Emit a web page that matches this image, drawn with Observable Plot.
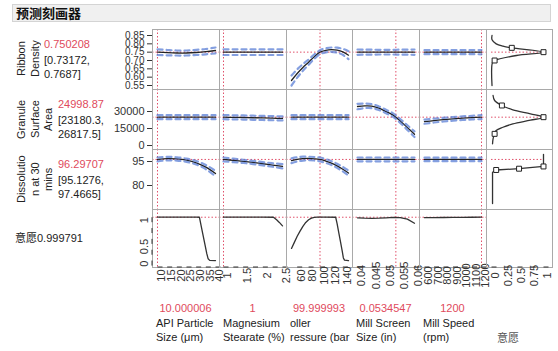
<!DOCTYPE html>
<html><head><meta charset="utf-8">
<script src="https://cdn.jsdelivr.net/npm/d3@7"></script>
<script src="https://cdn.jsdelivr.net/npm/@observablehq/plot@0.6"></script>
<style>
body{margin:0;background:#fff;}
#root{position:relative;width:558px;height:351px;overflow:hidden;background:#fff;}
</style></head><body><div id="root"></div>
<script>
// ---------- text ----------
const title = "预测刻画器";
const responseNames = [["Ribbon","Density"],["Granule","Surface","Area"],["Dissolutio","n at 30","mins"]];
const predicted = ["0.750208","24998.87","96.29707"];
const intervalLo = ["[0.73172,","[23180.3,","[95.1276,"];
const intervalHi = ["0.7687]","26817.5]","97.4665]"];
const desirabilityLabel = "意愿0.999791";
const factorLines = [["API Particle","Size (μm)"],["Magnesium","Stearate (%)"],["oller","ressure (bar"],["Mill Screen","Size (in)"],["Mill Speed","(rpm)"]];
const factorValues = ["10.000006","1","99.999993","0.0534547","1200"];
const desireColLabel = "意愿";
const currentX = [10.000006, 1, 99.999993, 0.0534547, 1200];
const currentY = [0.750208, 24998.87, 96.29707, 0.999791];

// ---------- ticks ----------
const ticksRibbon = [0.55, 0.60, 0.65, 0.70, 0.75, 0.80, 0.85];
const ticksSurface = [0, 15000, 30000];
const ticksDissolution = [80, 95];
const ticksDesire = [0, 0.25, 0.5, 0.75, 1];
const labelsDesire = [0, 0.5, 1];
const ticksApi = [10, 15, 20, 25, 30, 35, 40];
const ticksMg = [1, 1.25, 1.5, 1.75, 2, 2.25, 2.5];
const labelsMg = [1, 1.5, 2, 2.5];
const ticksRoller = [60, 80, 100, 120, 140];
const ticksScreen = [0.04, 0.045, 0.05, 0.055, 0.06];
const ticksSpeed = [600, 700, 800, 900, 1000, 1100, 1200];
const ticksDesireX = [0, 0.25, 0.5, 0.75, 1];

// ---------- factor grids ----------
const apiGrid = [10, 15, 20, 25, 30, 35, 40];
const mgGrid = [1, 1.25, 1.5, 1.75, 2, 2.25, 2.5];
const rollerGrid = [50, 60, 70, 80, 90, 100, 110, 120, 130, 140, 150];
const screenGrid = [0.04, 0.0425, 0.045, 0.0475, 0.05, 0.0525, 0.055, 0.0575, 0.06];
const speedGrid = [600, 700, 800, 900, 1000, 1100, 1200];

// ---------- Ribbon Density ----------
const ribbonApi   = [0.750, 0.747, 0.745, 0.745, 0.748, 0.753, 0.760];
const ribbonApiLo = [0.733, 0.731, 0.730, 0.730, 0.733, 0.737, 0.743];
const ribbonApiHi = [0.767, 0.763, 0.760, 0.760, 0.764, 0.769, 0.778];
const ribbonMg   = [0.750, 0.750, 0.750, 0.750, 0.750, 0.750, 0.750];
const ribbonMgLo = [0.733, 0.733, 0.733, 0.733, 0.733, 0.733, 0.733];
const ribbonMgHi = [0.767, 0.767, 0.767, 0.767, 0.767, 0.767, 0.767];
const ribbonRoller   = [0.580, 0.622, 0.658, 0.690, 0.723, 0.750, 0.761, 0.765, 0.762, 0.752, 0.732];
const ribbonRollerLo = [0.550, 0.597, 0.638, 0.674, 0.710, 0.738, 0.749, 0.752, 0.747, 0.734, 0.708];
const ribbonRollerHi = [0.610, 0.647, 0.678, 0.706, 0.736, 0.762, 0.773, 0.778, 0.777, 0.770, 0.756];
const ribbonScreen   = [0.750, 0.750, 0.750, 0.750, 0.750, 0.750, 0.750, 0.750, 0.750];
const ribbonScreenLo = [0.734, 0.735, 0.735, 0.736, 0.736, 0.736, 0.735, 0.735, 0.734];
const ribbonScreenHi = [0.766, 0.765, 0.765, 0.764, 0.764, 0.764, 0.765, 0.765, 0.766];
const ribbonSpeed   = [0.750, 0.750, 0.750, 0.750, 0.750, 0.750, 0.750];
const ribbonSpeedLo = [0.738, 0.738, 0.738, 0.738, 0.738, 0.738, 0.737];
const ribbonSpeedHi = [0.762, 0.762, 0.762, 0.762, 0.762, 0.762, 0.763];

// ---------- Granule Surface Area ----------
const surfaceApi   = [25000, 25000, 25000, 25000, 25000, 25000, 25000];
const surfaceApiLo = [23200, 23200, 23200, 23200, 23200, 23200, 23200];
const surfaceApiHi = [26800, 26800, 26800, 26800, 26800, 26800, 26800];
const surfaceMg   = [25000, 24850, 24700, 24500, 24300, 24100, 23900];
const surfaceMgLo = [23200, 23050, 22900, 22700, 22500, 22300, 22100];
const surfaceMgHi = [26800, 26650, 26500, 26300, 26100, 25900, 25700];
const surfaceRoller   = [25000, 25000, 25000, 25000, 25000, 25000, 25000, 25000, 25000, 25000, 25000];
const surfaceRollerLo = [23200, 23200, 23200, 23200, 23200, 23200, 23200, 23200, 23200, 23200, 23200];
const surfaceRollerHi = [26800, 26800, 26800, 26800, 26800, 26800, 26800, 26800, 26800, 26800, 26800];
const surfaceScreen   = [34400, 35000, 34800, 32900, 30000, 26800, 21700, 15800, 10000];
const surfaceScreenLo = [32000, 33000, 33000, 31300, 28500, 25200, 20000, 13800, 7500];
const surfaceScreenHi = [36800, 37000, 36600, 34500, 31500, 28400, 23400, 17800, 12500];
const surfaceSpeed   = [21000, 22000, 22800, 23500, 24100, 24600, 25000];
const surfaceSpeedLo = [19200, 20300, 21200, 21900, 22500, 23000, 23200];
const surfaceSpeedHi = [22800, 23700, 24400, 25100, 25700, 26200, 26800];

// ---------- Dissolution at 30 mins ----------
const dissApi   = [96.3, 96.8, 96.6, 95.8, 94.2, 91.5, 87.5];
const dissApiLo = [95.1, 95.7, 95.6, 94.8, 93.1, 90.2, 85.8];
const dissApiHi = [97.5, 97.9, 97.6, 96.8, 95.3, 92.8, 89.2];
const dissMg   = [96.3, 95.7, 95.1, 94.4, 93.6, 92.8, 92.0];
const dissMgLo = [95.1, 94.6, 94.1, 93.4, 92.6, 91.7, 90.7];
const dissMgHi = [97.5, 96.8, 96.1, 95.4, 94.6, 93.9, 93.3];
const dissRoller   = [95.5, 96.3, 96.8, 96.9, 96.7, 96.3, 95.3, 94.0, 92.3, 90.2, 87.8];
const dissRollerLo = [94.0, 95.0, 95.6, 95.8, 95.6, 95.1, 94.1, 92.8, 91.0, 88.8, 86.2];
const dissRollerHi = [97.0, 97.6, 98.0, 98.0, 97.8, 97.5, 96.5, 95.2, 93.6, 91.6, 89.4];
const dissScreen   = [96.3, 96.3, 96.3, 96.3, 96.3, 96.3, 96.3, 96.3, 96.3];
const dissScreenLo = [95.1, 95.1, 95.1, 95.1, 95.1, 95.1, 95.1, 95.1, 95.1];
const dissScreenHi = [97.5, 97.5, 97.5, 97.5, 97.5, 97.5, 97.5, 97.5, 97.5];
const dissSpeed   = [96.3, 96.3, 96.3, 96.3, 96.3, 96.3, 96.3];
const dissSpeedLo = [95.2, 95.2, 95.2, 95.2, 95.2, 95.2, 95.2];
const dissSpeedHi = [97.4, 97.4, 97.4, 97.4, 97.4, 97.4, 97.4];

// ---------- Desirability (意愿) vs factors ----------
const desireApiX = [10, 20, 30, 31.7, 32.5, 33.5, 34.5, 35.5, 36.2, 37, 40];
const desireApi  = [1, 1, 1, 0.999, 0.82, 0.6, 0.38, 0.16, 0.04, 0.005, 0];
const desireMgX = [1, 1.5, 2, 2.27, 2.35, 2.42, 2.5];
const desireMg  = [1, 1, 1, 0.999, 0.94, 0.88, 0.8];
const desireRollerX = [50, 55, 60, 65, 70, 75, 80, 85, 90, 95, 110, 127.5, 130, 133, 136, 139, 141, 143, 150];
const desireRoller  = [0.28, 0.42, 0.56, 0.68, 0.79, 0.88, 0.94, 0.98, 0.995, 1, 1, 0.999, 0.85, 0.64, 0.43, 0.22, 0.06, 0.01, 0];
const desireScreenX = [0.04, 0.0425, 0.045, 0.0475, 0.05, 0.0525, 0.055, 0.0575, 0.06];
const desireScreen  = [0.985, 0.978, 0.975, 0.977, 0.985, 0.995, 0.99, 0.955, 0.86];
const desireSpeedX = [600, 700, 800, 900, 1000, 1100, 1200];
const desireSpeed  = [0.99, 0.992, 0.994, 0.996, 0.997, 0.999, 1];

// ---------- Desirability functions (response vs desirability) ----------
const ribbonDesD = [0.01, 0.01, 0.09, 0.22, 0.39, 1, 0.48, 0.06, 0.02, 0.01];
const ribbonDesY = [0.85, 0.824, 0.80, 0.786, 0.776, 0.75, 0.73, 0.70, 0.69, 0.55];
const ribbonBoxD = [0.39, 1, 0.06];
const ribbonBoxY = [0.776, 0.75, 0.70];
const surfaceDesD = [0.03, 0.06, 0.2, 0.41, 0.75, 1, 0.75, 0.41, 0.22, 0.09, 0.06, 0.03, 0.02];
const surfaceDesY = [44100, 39700, 35300, 31500, 28000, 25000, 22300, 19000, 16100, 13200, 10300, 5900, 1500];
const surfaceBoxD = [0.2, 1, 0.06];
const surfaceBoxY = [35300, 25000, 10300];
const dissDesD = [1, 1, 0.53, 0.09, 0.02, 0.02];
const dissDesY = [99.5, 91.9, 90.5, 89.7, 88.3, 68.7];
const dissBoxD = [1, 0.53, 0.09];
const dissBoxY = [91.9, 90.5, 89.7];

// ---------- layout ----------
const colEdges = [152, 219, 286, 352, 419, 486, 552];
const rowEdges = [29, 89, 149, 209, 267];
const xDomains = [[10, 40], [1, 2.5], [50, 150], [0.04, 0.06], [600, 1200], [0, 1]];
const xInsets = [[5, 4], [4, 4], [5, 4], [5, 5], [5, 5], [5, 9]];
const yDomains = [[0.526, 0.886], [-3500, 49400], [65, 102.5], [-0.16, 1.178]];
const yFontSizes = [10, 11, 11, 11];

const FONT = '"Liberation Sans", Arial, "Noto Sans CJK SC", sans-serif';
const RED = "#e0506a";
const RED_TEXT = "#e04a5c";
const BLUE = "#5b7fd6";
const FRAME = "#a9a9a9";
const INK = "#222";

const root = document.getElementById("root");

function table(cols) {
  const keys = Object.keys(cols);
  return cols[keys[0]].map((_, i) => Object.fromEntries(keys.map(k => [k, cols[k][i]])));
}

const series = [
  [
    {x: apiGrid, y: ribbonApi, lo: ribbonApiLo, hi: ribbonApiHi},
    {x: mgGrid, y: ribbonMg, lo: ribbonMgLo, hi: ribbonMgHi},
    {x: rollerGrid, y: ribbonRoller, lo: ribbonRollerLo, hi: ribbonRollerHi},
    {x: screenGrid, y: ribbonScreen, lo: ribbonScreenLo, hi: ribbonScreenHi},
    {x: speedGrid, y: ribbonSpeed, lo: ribbonSpeedLo, hi: ribbonSpeedHi}
  ],
  [
    {x: apiGrid, y: surfaceApi, lo: surfaceApiLo, hi: surfaceApiHi},
    {x: mgGrid, y: surfaceMg, lo: surfaceMgLo, hi: surfaceMgHi},
    {x: rollerGrid, y: surfaceRoller, lo: surfaceRollerLo, hi: surfaceRollerHi},
    {x: screenGrid, y: surfaceScreen, lo: surfaceScreenLo, hi: surfaceScreenHi},
    {x: speedGrid, y: surfaceSpeed, lo: surfaceSpeedLo, hi: surfaceSpeedHi}
  ],
  [
    {x: apiGrid, y: dissApi, lo: dissApiLo, hi: dissApiHi},
    {x: mgGrid, y: dissMg, lo: dissMgLo, hi: dissMgHi},
    {x: rollerGrid, y: dissRoller, lo: dissRollerLo, hi: dissRollerHi},
    {x: screenGrid, y: dissScreen, lo: dissScreenLo, hi: dissScreenHi},
    {x: speedGrid, y: dissSpeed, lo: dissSpeedLo, hi: dissSpeedHi}
  ]
];
const desireRow = [
  {x: desireApiX, y: desireApi},
  {x: desireMgX, y: desireMg},
  {x: desireRollerX, y: desireRoller},
  {x: desireScreenX, y: desireScreen},
  {x: desireSpeedX, y: desireSpeed}
];
const desireCol = [
  {line: {x: ribbonDesD, y: ribbonDesY}, box: {x: ribbonBoxD, y: ribbonBoxY}, curve: "catmull-rom"},
  {line: {x: surfaceDesD, y: surfaceDesY}, box: {x: surfaceBoxD, y: surfaceBoxY}, curve: "catmull-rom"},
  {line: {x: dissDesD, y: dissDesY}, box: {x: dissBoxD, y: dissBoxY}, curve: "linear"}
];
const yAxes = [
  {ticks: ticksRibbon, tickFormat: d3.format(".2f")},
  {ticks: ticksSurface, tickFormat: d => String(d)},
  {ticks: ticksDissolution, tickFormat: d => String(d)},
  {ticks: ticksDesire, tickFormat: d => labelsDesire.includes(d) ? String(d) : "", rotate: -90}
];
const xAxes = [
  {ticks: ticksApi, tickFormat: d => String(d)},
  {ticks: ticksMg, tickFormat: d => labelsMg.includes(d) ? String(d) : ""},
  {ticks: ticksRoller, tickFormat: d => String(d)},
  {ticks: ticksScreen, tickFormat: d => String(d)},
  {ticks: ticksSpeed, tickFormat: d => String(d)},
  {ticks: ticksDesireX, tickFormat: d => String(d)}
];

const dotted = {stroke: RED, strokeDasharray: "1.5,2", strokeWidth: 1};
const band = {stroke: BLUE, strokeWidth: 2.2, strokeDasharray: "5,4", strokeOpacity: 0.75, curve: "catmull-rom"};

for (let r = 0; r < 4; r++) {
  for (let c = 0; c < 6; c++) {
    const marks = [];
    if (c < 5 && r < 3) {
      const data = table(series[r][c]);
      marks.push(
        Plot.ruleY([currentY[r]], dotted),
        Plot.ruleX([currentX[c]], dotted),
        Plot.line(data, {x: "x", y: "y", stroke: INK, strokeWidth: 1.3, curve: "catmull-rom"}),
        Plot.line(data, {x: "x", y: "lo", ...band}),
        Plot.line(data, {x: "x", y: "hi", ...band})
      );
    } else if (c < 5 && r === 3) {
      const data = table(desireRow[c]);
      marks.push(
        Plot.ruleY([currentY[r]], dotted),
        Plot.ruleX([currentX[c]], dotted),
        Plot.line(data, {x: "x", y: "y", stroke: "#333", strokeWidth: 1.3})
      );
    } else if (c === 5 && r < 3) {
      const dc = desireCol[r];
      marks.push(
        Plot.ruleY([{y: currentY[r], a: 0, b: 1}], {y: "y", x1: "a", x2: "b", ...dotted}),
        Plot.line(table(dc.line), {x: "x", y: "y", stroke: "#333", strokeWidth: 1.3, curve: dc.curve}),
        Plot.dot(table(dc.box), {x: "x", y: "y", symbol: "square", r: 2.8, fill: "#fff", stroke: "#222", strokeWidth: 1})
      );
    }
    marks.push(Plot.frame({stroke: FRAME}));
    if (c === 0) marks.push(Plot.axisY({...yAxes[r], tickSize: 5, tickPadding: 3, fontSize: yFontSizes[r], label: null, color: "#333"}));
    if (r === 3) marks.push(Plot.axisX({...xAxes[c], rotate: -90, tickSize: 5, tickPadding: 3, fontSize: 11, label: null, color: "#333"}));

    const mL = c === 0 ? 60 : 1, mR = 1, mT = 1, mB = r === 3 ? 45 : 1;
    const w = colEdges[c + 1] - colEdges[c], h = rowEdges[r + 1] - rowEdges[r];
    const svg = Plot.plot({
      width: w + mL + mR, height: h + mT + mB,
      marginLeft: mL, marginRight: mR, marginTop: mT, marginBottom: mB,
      x: {domain: xDomains[c], insetLeft: xInsets[c][0], insetRight: xInsets[c][1], axis: null},
      y: {domain: yDomains[r], axis: null},
      style: {fontFamily: FONT, fontSize: "11px", overflow: "visible", background: "transparent", color: "#333"},
      marks
    });
    svg.style.position = "absolute";
    svg.style.left = (colEdges[c] - mL) + "px";
    svg.style.top = (rowEdges[r] - mT) + "px";
    svg.style.maxWidth = "none";
    root.appendChild(svg);
  }
}

// ---------- HTML text ----------
function addDiv(text, left, centerY, css) {
  const d = document.createElement("div");
  d.textContent = text;
  d.style.cssText = `position:absolute;left:${left}px;top:${centerY - 7}px;white-space:nowrap;font-family:${FONT};font-size:11px;line-height:14px;color:${INK};${css || ""}`;
  root.appendChild(d);
  return d;
}

// title bar
const bar = document.createElement("div");
bar.style.cssText = "position:absolute;left:12px;top:4px;width:537px;height:16px;background:#f0f0f0;border:1px solid #d4d4d4;";
const tt = document.createElement("div");
tt.textContent = title;
tt.style.cssText = "position:absolute;left:3px;top:0;font-family:'Noto Sans CJK SC',sans-serif;font-weight:bold;font-size:13px;line-height:16px;color:#111;";
bar.appendChild(tt);
root.appendChild(bar);

// response names (rotated) and predicted values
const valueLeft = [44, 58, 58];
for (let r = 0; r < 3; r++) {
  const d = document.createElement("div");
  d.style.cssText = `position:absolute;left:15px;top:${rowEdges[r]}px;height:${rowEdges[r + 1] - rowEdges[r]}px;writing-mode:vertical-rl;transform:rotate(180deg);text-align:center;white-space:nowrap;font-family:${FONT};font-size:11px;line-height:13.5px;color:${INK};`;
  responseNames[r].forEach((ln, i) => {
    if (i) d.appendChild(document.createElement("br"));
    d.appendChild(document.createTextNode(ln));
  });
  root.appendChild(d);
  const cy = (rowEdges[r] + rowEdges[r + 1]) / 2;
  addDiv(predicted[r], valueLeft[r], cy - 15, `color:${RED_TEXT};`);
  addDiv(intervalLo[r], valueLeft[r], cy + 1);
  addDiv(intervalHi[r], valueLeft[r], cy + 15);
}
addDiv(desirabilityLabel, 15, 238);

// factor values and names
for (let c = 0; c < 5; c++) {
  const w = colEdges[c + 1] - colEdges[c];
  addDiv(factorValues[c], colEdges[c], 308, `width:${w}px;text-align:center;color:${RED_TEXT};`);
  addDiv(factorLines[c][0], colEdges[c] + 4, 323);
  addDiv(factorLines[c][1], colEdges[c] + 4, 337);
}
addDiv(desireColLabel, 497, 338, "color:#555;");
</script></body></html>
